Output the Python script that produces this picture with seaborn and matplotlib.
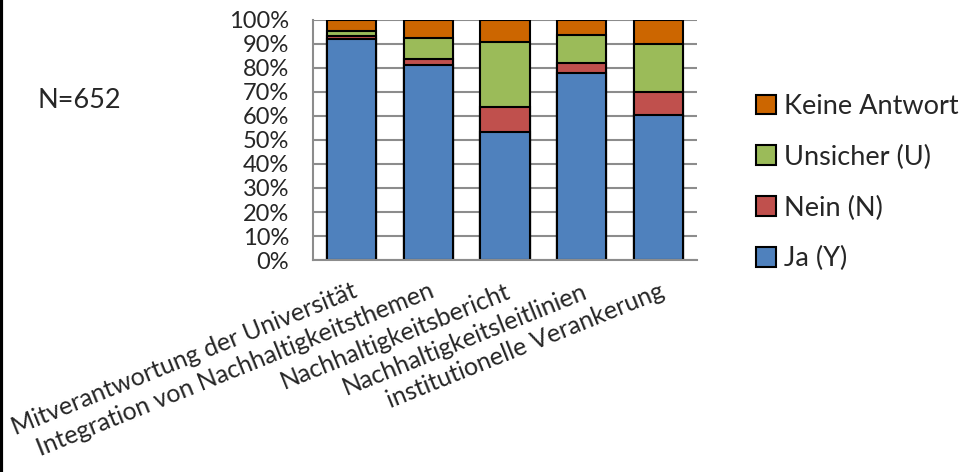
import numpy as np
import pandas as pd
import matplotlib.pyplot as plt
import seaborn as sns

categories = ['Mitverantwortung der Universität',
              'Integration von Nachhaltigkeitsthemen',
              'Nachhaltigkeitsbericht',
              'Nachhaltigkeitsleitlinien',
              'institutionelle Verankerung']
ja = [92.0, 81.4, 53.5, 77.8, 60.4]
nein = [1.3, 2.2, 10.4, 4.1, 9.6]
unsicher = [2.0, 9.0, 26.9, 11.6, 20.1]
keine = [4.7, 7.4, 9.2, 6.5, 9.9]
series_names = ['Ja (Y)', 'Nein (N)', 'Unsicher (U)', 'Keine Antwort']
colors = ['#4F81BD', '#C0504D', '#9BBB59', '#CC6600']

sns.set_style('white')
plt.rcParams['font.family'] = ['Lato', 'DejaVu Sans']

df = pd.DataFrame({'cat': categories, 'Ja (Y)': ja, 'Nein (N)': nein,
                   'Unsicher (U)': unsicher, 'Keine Antwort': keine})
# cumulative tops, drawn tallest first so the shorter ones sit on top
cum = df[series_names].cumsum(axis=1)

fig = plt.figure(figsize=(9.75, 4.72), dpi=100)
ax = fig.add_axes([0.321, 0.449, 0.394, 0.509])

for name, col in reversed(list(zip(series_names, colors))):
    sns.barplot(x=df['cat'], y=cum[name], color=col, width=0.64,
                edgecolor='black', linewidth=1.5, saturation=1, ax=ax, label=name)
handles, labels = ax.get_legend_handles_labels()
if ax.get_legend() is not None:
    ax.get_legend().remove()

ax.set_ylim(0, 100)
ax.set_xlim(-0.5, 4.5)
ax.set_yticks(np.arange(0, 101, 10))
ax.set_yticklabels([f'{v}%' for v in range(0, 101, 10)], fontsize=17)
ax.yaxis.grid(True, color='#8C8C8C', linewidth=1.5)
ax.set_axisbelow(True)
for s in ['top', 'right']:
    ax.spines[s].set_visible(False)
for s in ['left', 'bottom']:
    ax.spines[s].set_color('#8C8C8C')
    ax.spines[s].set_linewidth(1.5)
ax.tick_params(axis='y', length=0, pad=17)
ax.tick_params(axis='x', length=0, pad=14)
ax.set_xlabel('')
ax.set_ylabel('')
ax.set_xticks(range(len(categories)))
ax.set_xticklabels(categories, rotation=22, ha='right', rotation_mode='anchor', fontsize=18)

fig.legend(handles, labels, loc='center left', bbox_to_anchor=(0.75, 0.613),
           frameon=False, fontsize=19.5, handlelength=0.75, handleheight=0.75,
           handletextpad=0.3, labelspacing=0.95)

fig.text(0.038, 0.788, 'N=652', fontsize=19.5, va='center', ha='left')
fig.add_artist(plt.Line2D([0.0015, 0.0015], [0, 1], color='black', lw=3))

fig.savefig('out.png', dpi=100)
